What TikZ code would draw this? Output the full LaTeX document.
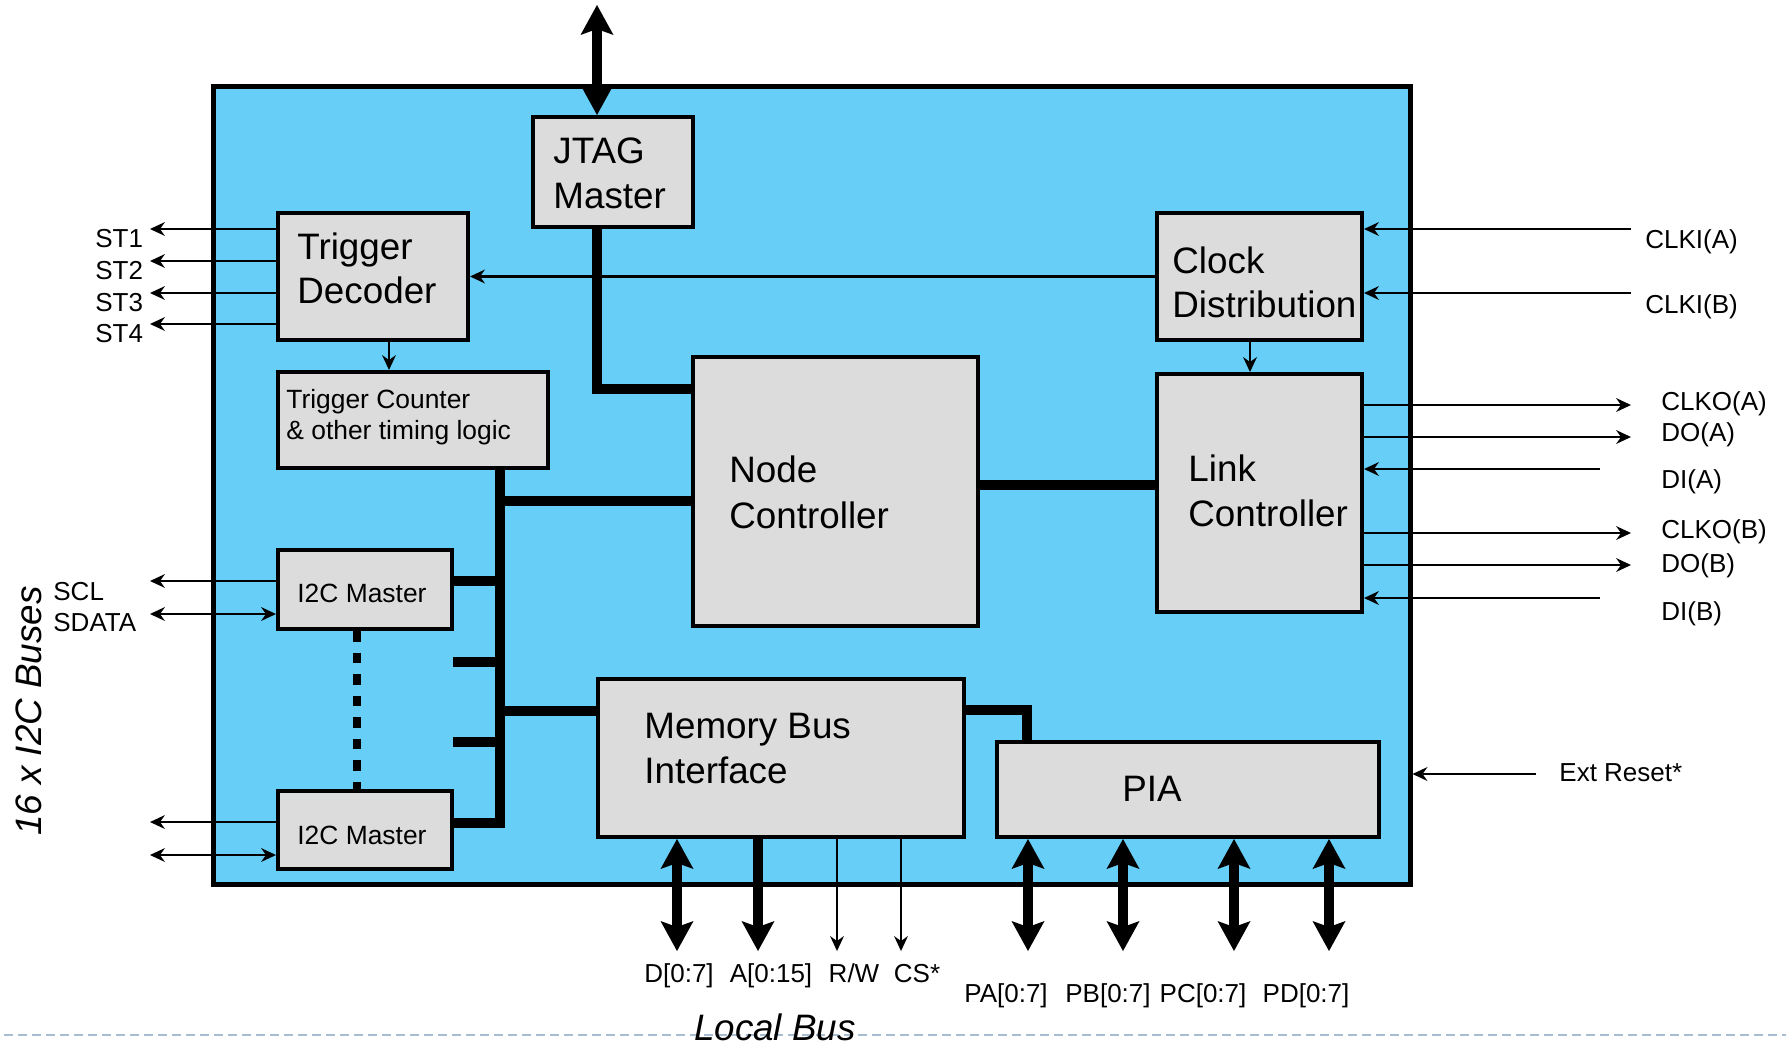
\documentclass[tikz,border=0pt]{standalone}
\usepackage{fontspec}
\setmainfont{Liberation Sans}
\usetikzlibrary{arrows.meta}
\definecolor{chipblue}{RGB}{102,206,247}
\definecolor{boxgray}{RGB}{220,220,220}
\definecolor{dashblue}{RGB}{167,189,210}
\newcommand\FBig{\fontsize{18.4pt}{22pt}\selectfont}
\newcommand\FSmall{\fontsize{13.2pt}{15pt}\selectfont}
\newcommand\FLab{\fontsize{13pt}{15pt}\selectfont}
\tikzset{
  smt/.tip={Stealth[length=7.5pt,width=7pt,inset=2.5pt,line width=0pt]},
  bgt/.tip={Stealth[length=15pt,width=16.5pt,inset=3pt,line width=0pt]},
  chipbox/.style={draw, line width=2.5pt, fill=chipblue, inner sep=0pt},
  blk/.style={draw, line width=2pt, fill=boxgray, inner sep=0pt},
  sig/.style={line width=1.2pt},
  bus/.style={line width=5pt, line join=miter},
  bigarr/.style={line width=5pt},
  txt/.style={inner sep=0pt, anchor=base west},
  ctxt/.style={inner sep=0pt, anchor=base}
}
\begin{document}
\begin{tikzpicture}[x=0.5pt,y=-0.5pt]
\useasboundingbox (0,0) rectangle (1786,1045);

% bottom dashed separator
\coordinate (dl) at (4,1035);
\coordinate (dr) at (1786,1035);
\draw[dashblue, line width=1pt, dash pattern=on 4.5pt off 2.5pt] (dl) -- (dr);

% chip
\node[chipbox, minimum width=598.5pt, minimum height=399pt] (chip) at (811.5,485) {};

% blocks
\node[blk, minimum width=80pt, minimum height=55pt] (jtag) at (613,172) {};
\node[blk, minimum width=95pt, minimum height=63.5pt] (trig) at (373,276.5) {};
\node[blk, minimum width=135pt, minimum height=48pt] (tcnt) at (413,420) {};
\node[blk, minimum width=142.5pt, minimum height=134.5pt] (nodec) at (835.5,491.5) {};
\node[blk, minimum width=87pt, minimum height=39.5pt] (ic1) at (365,589.5) {};
\node[blk, minimum width=87pt, minimum height=39pt] (ic2) at (365,830) {};
\node[blk, minimum width=183pt, minimum height=79pt] (mbi) at (781,758) {};
\node[blk, minimum width=191pt, minimum height=47.5pt] (pia) at (1188,789.5) {};
\node[blk, minimum width=102.5pt, minimum height=63.5pt] (clk) at (1259.5,276.5) {};
\node[blk, minimum width=102.5pt, minimum height=119pt] (link) at (1259.5,493) {};

% block texts
\node[txt] (tj1) at (553,163) {\FBig JTAG};
\node[txt] (tj2) at (553,208) {\FBig Master};
\node[txt] (tt1) at (297,259) {\FBig Trigger};
\node[txt] (tt2) at (297,303) {\FBig Decoder};
\node[txt] (tc1) at (286,408) {\FSmall Trigger Counter};
\node[txt] (tc2) at (286,439) {\FSmall \& other timing logic};
\node[txt] (tn1) at (729,482) {\FBig Node};
\node[txt] (tn2) at (729,528) {\FBig Controller};
\node[txt] (ti1) at (297,602) {\FSmall I2C Master};
\node[txt] (ti2) at (297,844) {\FSmall I2C Master};
\node[txt] (tm1) at (644,738) {\FBig Memory Bus};
\node[txt] (tm2) at (644,783) {\FBig Interface};
\node[ctxt] (tp) at (1152,801) {\FBig PIA};
\node[txt] (tk1) at (1172,273) {\FBig Clock};
\node[txt] (tk2) at (1172,317) {\FBig Distribution};
\node[txt] (tl1) at (1188,481) {\FBig Link};
\node[txt] (tl2) at (1188,526) {\FBig Controller};

% JTAG
\coordinate (jt) at (597,5);
\draw[bigarr, bgt-bgt] (jt) -- (jt |- jtag.north);
\coordinate (jn) at (597,389);
\draw[bus] (jt |- jtag.south) -- (jn) -- (jn -| nodec.west);

% clock to trigger decoder
\draw[sig, -smt] (clk.west) -- (trig.east);
\coordinate (tdx) at (389,0);
\draw[sig, -smt] (tdx |- trig.south) -- (tdx |- tcnt.north);

% ST outputs
\foreach \y/\n in {229/1,261/2,293/3,324/4}{
  \coordinate (st\n) at (150,\y);
  \draw[sig, -smt] (trig.west |- st\n) -- (st\n);
  \node[txt] (lst\n) at (95,\y+18) {\FLab ST\n};
}

% clock inputs
\coordinate (cka) at (1631,229);
\coordinate (ckb) at (1631,293);
\draw[sig, -smt] (cka) -- (cka -| clk.east);
\draw[sig, -smt] (ckb) -- (ckb -| clk.east);
\node[txt] (lcka) at (1645,248) {\FLab CLKI(A)};
\node[txt] (lckb) at (1645,313) {\FLab CLKI(B)};
\coordinate (clx) at (1250,0);
\draw[sig, -smt] (clx |- clk.south) -- (clx |- link.north);

% node - link
\coordinate (nl) at (1000,485);
\draw[bus] (nl -| nodec.east) -- (nl -| link.west);

% link signals
\coordinate (oa1) at (1631,405);
\coordinate (oa2) at (1631,437);
\coordinate (ia) at (1600,469);
\coordinate (ob1) at (1631,533);
\coordinate (ob2) at (1631,565);
\coordinate (ib) at (1600,598);
\draw[sig, -smt] (oa1 -| link.east) -- (oa1);
\draw[sig, -smt] (oa2 -| link.east) -- (oa2);
\draw[sig, -smt] (ia) -- (ia -| link.east);
\draw[sig, -smt] (ob1 -| link.east) -- (ob1);
\draw[sig, -smt] (ob2 -| link.east) -- (ob2);
\draw[sig, -smt] (ib) -- (ib -| link.east);
\node[txt] (loa1) at (1661,410) {\FLab CLKO(A)};
\node[txt] (loa2) at (1661,441) {\FLab DO(A)};
\node[txt] (lia) at (1661,488) {\FLab DI(A)};
\node[txt] (lob1) at (1661,538) {\FLab CLKO(B)};
\node[txt] (lob2) at (1661,572) {\FLab DO(B)};
\node[txt] (lib) at (1661,620) {\FLab DI(B)};

% internal bus
\coordinate (b0) at (500,501);
\coordinate (b1) at (500,581);
\coordinate (b2) at (500,662);
\coordinate (b3) at (500,742);
\coordinate (b4) at (500,823);
\coordinate (bm) at (500,711);
\coordinate (s2) at (453,662);
\coordinate (s3) at (453,742);
\draw[bus] (b0 |- tcnt.south) -- (b4) -- (b4 -| ic2.east);
\draw[bus] (b0) -- (b0 -| nodec.west);
\draw[bus] (b1) -- (b1 -| ic1.east);
\draw[bus] (b2) -- (s2);
\draw[bus] (b3) -- (s3);
\draw[bus] (bm) -- (bm -| mbi.west);

% dotted between I2C masters
\coordinate (dx) at (357,0);
\draw[line width=4pt, dash pattern=on 5.25pt off 5.5pt] (dx |- ic1.south) -- (dx |- ic2.north);

% I2C signals
\coordinate (sc1) at (150,581);
\coordinate (sd1) at (150,614);
\coordinate (sc2) at (150,822);
\coordinate (sd2) at (150,855);
\draw[sig, -smt] (sc1 -| ic1.west) -- (sc1);
\draw[sig, smt-smt] (sd1) -- (sd1 -| ic1.west);
\draw[sig, -smt] (sc2 -| ic2.west) -- (sc2);
\draw[sig, smt-smt] (sd2) -- (sd2 -| ic2.west);
\node[txt] (lscl) at (53,600) {\FLab SCL};
\node[txt] (lsda) at (53,631) {\FLab SDATA};
\node[rotate=90, inner sep=0pt] (ibus) at (29,711) {\FBig\itshape 16 x I2C Buses};

% memory bus to PIA
\coordinate (mp) at (1027,710);
\draw[bus] (mp -| mbi.east) -- (mp) -- (mp |- pia.north);

% local bus
\coordinate (ld) at (677,951);
\coordinate (la) at (758,951);
\coordinate (lr) at (837,951);
\coordinate (lc) at (901,951);
\draw[bigarr, bgt-bgt] (ld |- mbi.south) -- (ld);
\draw[bigarr, -bgt] (la |- mbi.south) -- (la);
\draw[sig, -smt] (lr |- mbi.south) -- (lr);
\draw[sig, -smt] (lc |- mbi.south) -- (lc);
\node[ctxt] (lld) at (679,982) {\FLab D[0:7]};
\node[ctxt] (lla) at (771,982) {\FLab A[0:15]};
\node[ctxt] (llr) at (854,982) {\FLab R/W};
\node[ctxt] (llc) at (917,982) {\FLab CS*};
\node[ctxt] (lb) at (775,1040) {\FBig\itshape Local Bus};

% PIA ports
\coordinate (p1) at (1028,951);
\coordinate (p2) at (1123,951);
\coordinate (p3) at (1234,951);
\coordinate (p4) at (1329,951);
\draw[bigarr, bgt-bgt] (p1 |- pia.south) -- (p1);
\draw[bigarr, bgt-bgt] (p2 |- pia.south) -- (p2);
\draw[bigarr, bgt-bgt] (p3 |- pia.south) -- (p3);
\draw[bigarr, bgt-bgt] (p4 |- pia.south) -- (p4);
\node[ctxt] (lp1) at (1006,1002) {\FLab PA[0:7]};
\node[ctxt] (lp2) at (1108,1002) {\FLab PB[0:7]};
\node[ctxt] (lp3) at (1203,1002) {\FLab PC[0:7]};
\node[ctxt] (lp4) at (1306,1002) {\FLab PD[0:7]};

% external reset
\coordinate (er) at (1536,774);
\draw[sig, -smt] (er) -- (er -| chip.east);
\node[txt] (ler) at (1559,781) {\FLab Ext Reset*};
\end{tikzpicture}
\end{document}
